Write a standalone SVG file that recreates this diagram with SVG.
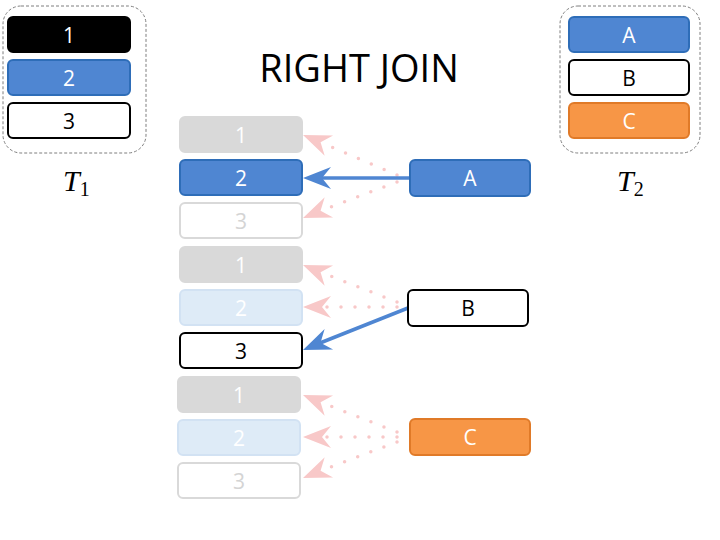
<svg xmlns="http://www.w3.org/2000/svg" width="720" height="540" viewBox="0 0 720 540">
<style>
.box{stroke-width:2}
.lbl{font-family:"Open Sans","Liberation Sans","DejaVu Sans",sans-serif;font-size:21px;text-anchor:middle;dominant-baseline:central}
.black{fill:#000;stroke:#000}
.blue{fill:#4F86D2;stroke:#2E6DB8}
.white{fill:#fff;stroke:#000}
.orange{fill:#F79646;stroke:#E07A28}
.gray{fill:#D9D9D9;stroke:#D9D9D9}
.fblue{fill:#DEEBF7;stroke:#D2E2F3}
.fwhite{fill:#fff;stroke:#D9D9D9}
.tw{fill:#fff}
.tb{fill:#000}
.tg{fill:#D4D4D4}
.cont{fill:none;stroke:#7F7F7F;stroke-width:1;stroke-dasharray:3 2}
.solid{stroke:#4F86D2;stroke-width:3.5;fill:none}
.dot{stroke:#F8C8C8;stroke-width:3.5;fill:none;stroke-dasharray:0 14;stroke-linecap:round}
.math{font-family:"Liberation Serif","DejaVu Serif",serif}
</style>
<defs>
<marker id="hb" markerUnits="userSpaceOnUse" markerWidth="40" markerHeight="30" viewBox="-30 -15 32 30" refX="0" refY="0" orient="auto">
<path d="M0,0 L-28,-11 L-19,0 L-28,11 Z" fill="#4F86D2"/>
</marker>
<marker id="hp" markerUnits="userSpaceOnUse" markerWidth="40" markerHeight="30" viewBox="-30 -15 32 30" refX="0" refY="0" orient="auto">
<path d="M0,0 L-28,-11 L-19,0 L-28,11 Z" fill="#F8C8C8"/>
</marker>
</defs>

<g id="T1">
<rect class="cont" x="3" y="6" width="143" height="147" rx="18"/>
<rect class="box black" x="8" y="17" width="122" height="35" rx="5"/>
<text class="lbl tw" x="69" y="35">1</text>
<rect class="box blue" x="8" y="60" width="122" height="35" rx="5"/>
<text class="lbl tw" x="69" y="78">2</text>
<rect class="box white" x="8" y="103" width="122" height="35" rx="5"/>
<text class="lbl tb" x="69" y="121">3</text>
<text class="math" x="63" y="191" font-size="30"><tspan font-style="italic">T</tspan><tspan font-size="20" dy="5">1</tspan></text>
</g>

<g id="T2">
<rect class="cont" x="560" y="6" width="140" height="147" rx="18"/>
<rect class="box blue" x="569" y="17" width="120" height="35" rx="5"/>
<text class="lbl tw" x="629" y="35">A</text>
<rect class="box white" x="569" y="60" width="120" height="35" rx="5"/>
<text class="lbl tb" x="629" y="78">B</text>
<rect class="box orange" x="569" y="103" width="120" height="35" rx="5"/>
<text class="lbl tw" x="629" y="121">C</text>
<text class="math" x="617" y="191" font-size="30"><tspan font-style="italic">T</tspan><tspan font-size="20" dy="5">2</tspan></text>
</g>

<text id="title" x="359" y="82" font-family="Open Sans, Liberation Sans, DejaVu Sans, sans-serif" font-size="38" text-anchor="middle" fill="#000">RIGHT JOIN</text>

<g id="connectors">
<line class="dot" x1="397" y1="175" x2="320" y2="142"/>
<path d="M320,142 L303,135" stroke="none" fill="none" marker-end="url(#hp)"/>
<line class="dot" x1="397" y1="182" x2="320" y2="211"/>
<path d="M320,211 L303,218" stroke="none" fill="none" marker-end="url(#hp)"/>
<line class="solid" x1="410" y1="178" x2="310" y2="178"/>
<path d="M310,178 L303,178" stroke="none" fill="none" marker-end="url(#hb)"/>

<line class="dot" x1="397" y1="302" x2="320" y2="272"/>
<path d="M320,272 L303,265" stroke="none" fill="none" marker-end="url(#hp)"/>
<line class="dot" x1="397" y1="307" x2="320" y2="307"/>
<path d="M320,307 L303,307" stroke="none" fill="none" marker-end="url(#hp)"/>
<line class="solid" x1="408" y1="308" x2="315" y2="345"/>
<path d="M315,345 L303,350" stroke="none" fill="none" marker-end="url(#hb)"/>

<line class="dot" x1="397" y1="432" x2="320" y2="402"/>
<path d="M320,402 L303,395" stroke="none" fill="none" marker-end="url(#hp)"/>
<line class="dot" x1="397" y1="437" x2="320" y2="437"/>
<path d="M320,437 L303,437" stroke="none" fill="none" marker-end="url(#hp)"/>
<line class="dot" x1="397" y1="442" x2="320" y2="471"/>
<path d="M320,471 L303,478" stroke="none" fill="none" marker-end="url(#hp)"/>
</g>

<g id="g1-1"><rect class="box gray" x="180" y="117" width="122" height="35" rx="5"/><text class="lbl tw" x="241" y="135">1</text></g>
<g id="g1-2"><rect class="box blue" x="180" y="160" width="122" height="35" rx="5"/><text class="lbl tw" x="241" y="178">2</text></g>
<g id="g1-3"><rect class="box fwhite" x="180" y="203" width="122" height="35" rx="5"/><text class="lbl tg" x="241" y="221">3</text></g>

<g id="g2-1"><rect class="box gray" x="180" y="247" width="122" height="35" rx="5"/><text class="lbl tw" x="241" y="265">1</text></g>
<g id="g2-2"><rect class="box fblue" x="180" y="290" width="122" height="35" rx="5"/><text class="lbl tw" x="241" y="308">2</text></g>
<g id="g2-3"><rect class="box white" x="180" y="333" width="122" height="35" rx="5"/><text class="lbl tb" x="241" y="351">3</text></g>

<g id="g3-1"><rect class="box gray" x="178" y="377" width="122" height="35" rx="5"/><text class="lbl tw" x="239" y="395">1</text></g>
<g id="g3-2"><rect class="box fblue" x="178" y="420" width="122" height="35" rx="5"/><text class="lbl tw" x="239" y="438">2</text></g>
<g id="g3-3"><rect class="box fwhite" x="178" y="463" width="122" height="35" rx="5"/><text class="lbl tg" x="239" y="481">3</text></g>

<g id="A"><rect class="box blue" x="410" y="160" width="120" height="36" rx="5"/><text class="lbl tw" x="470" y="178">A</text></g>
<g id="B"><rect class="box white" x="408" y="290" width="120" height="36" rx="5"/><text class="lbl tb" x="468" y="308">B</text></g>
<g id="C"><rect class="box orange" x="410" y="419" width="120" height="36" rx="5"/><text class="lbl tw" x="470" y="437">C</text></g>
</svg>
